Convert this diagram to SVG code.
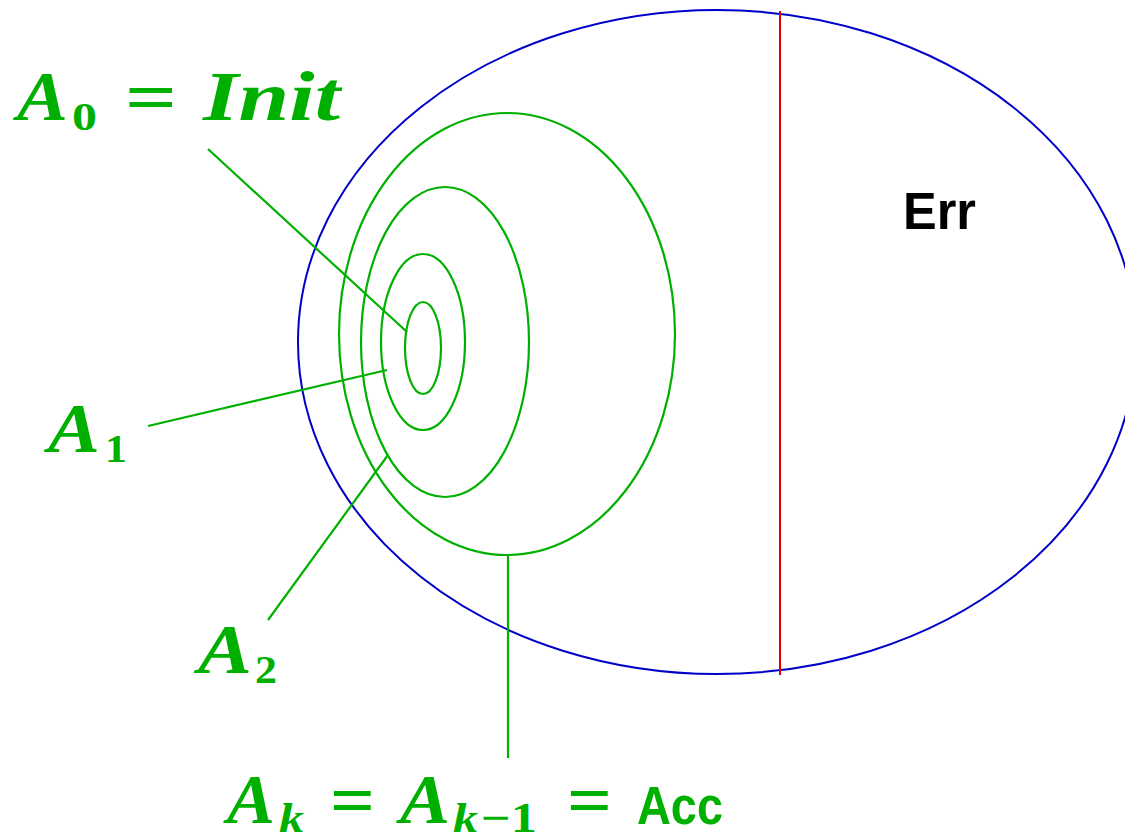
<svg xmlns="http://www.w3.org/2000/svg" width="1125" height="840" viewBox="0 0 1125 840">
<style>
.g{fill:none;stroke:#00b000;stroke-width:2.2}
.b{fill:none;stroke:#0000c8;stroke-width:2}
.r{stroke:#e00000;stroke-width:2}
.m{font-family:"Liberation Serif",serif;font-weight:bold;font-style:italic;fill:#00b000}
.n{font-family:"Liberation Serif",serif;font-weight:bold;fill:#00b000}
.s{font-family:"Liberation Sans",sans-serif;font-weight:bold}
</style>
<rect width="1125" height="840" fill="#fff"/>
<g id="universe">
<ellipse class="b" cx="717" cy="342" rx="419" ry="332"/>
</g>
<g id="err-boundary">
<line class="r" x1="780" y1="11" x2="780" y2="675"/>
</g>
<g id="err">
<text class="s" x="903" y="229" font-size="51" fill="#000" textLength="73" lengthAdjust="spacingAndGlyphs">Err</text>
</g>
<g id="A0">
<ellipse class="g" cx="423" cy="348" rx="18" ry="46"/>
</g>
<g id="A1">
<ellipse class="g" cx="423" cy="342" rx="42" ry="88"/>
</g>
<g id="A2">
<ellipse class="g" cx="445" cy="342" rx="84" ry="155"/>
</g>
<g id="Ak">
<ellipse class="g" cx="507" cy="334" rx="168" ry="221"/>
</g>
<g id="connectors">
<line class="g" x1="208" y1="149" x2="407" y2="332"/>
<line class="g" x1="148" y1="426" x2="387" y2="370"/>
<line class="g" x1="268" y1="620" x2="388" y2="455"/>
<line class="g" x1="508" y1="556" x2="508" y2="758"/>
</g>
<g id="label-A0">
<text class="m" x="17" y="120" font-size="70" textLength="51" lengthAdjust="spacingAndGlyphs">A</text>
<text class="n" x="72" y="130" font-size="41" textLength="25" lengthAdjust="spacingAndGlyphs">0</text>
<text class="n" x="125" y="121" font-size="70" textLength="52" lengthAdjust="spacingAndGlyphs">=</text>
<text class="m" x="203" y="120" font-size="70" textLength="137" lengthAdjust="spacingAndGlyphs">Init</text>
</g>
<g id="label-A1">
<text class="m" x="48" y="452" font-size="70" textLength="52" lengthAdjust="spacingAndGlyphs">A</text>
<text class="n" x="105" y="462" font-size="41" textLength="22" lengthAdjust="spacingAndGlyphs">1</text>
</g>
<g id="label-A2">
<text class="m" x="198" y="673" font-size="70" textLength="54" lengthAdjust="spacingAndGlyphs">A</text>
<text class="n" x="255" y="683" font-size="41" textLength="22" lengthAdjust="spacingAndGlyphs">2</text>
</g>
<g id="label-Ak">
<text class="m" x="227" y="823" font-size="70" textLength="48" lengthAdjust="spacingAndGlyphs">A</text>
<text class="m" x="279" y="832" font-size="42" textLength="25" lengthAdjust="spacingAndGlyphs">k</text>
<text class="n" x="330" y="824" font-size="70" textLength="45" lengthAdjust="spacingAndGlyphs">=</text>
<text class="m" x="400" y="823" font-size="70" textLength="50" lengthAdjust="spacingAndGlyphs">A</text>
<text class="m" x="453" y="832" font-size="42" textLength="25" lengthAdjust="spacingAndGlyphs">k</text>
<text class="n" x="481" y="832" font-size="42" textLength="56" lengthAdjust="spacingAndGlyphs">−1</text>
<text class="n" x="567" y="824" font-size="70" textLength="45" lengthAdjust="spacingAndGlyphs">=</text>
<text class="s" x="637" y="824" font-size="54" fill="#00b000" textLength="86" lengthAdjust="spacingAndGlyphs">Acc</text>
</g>
</svg>
